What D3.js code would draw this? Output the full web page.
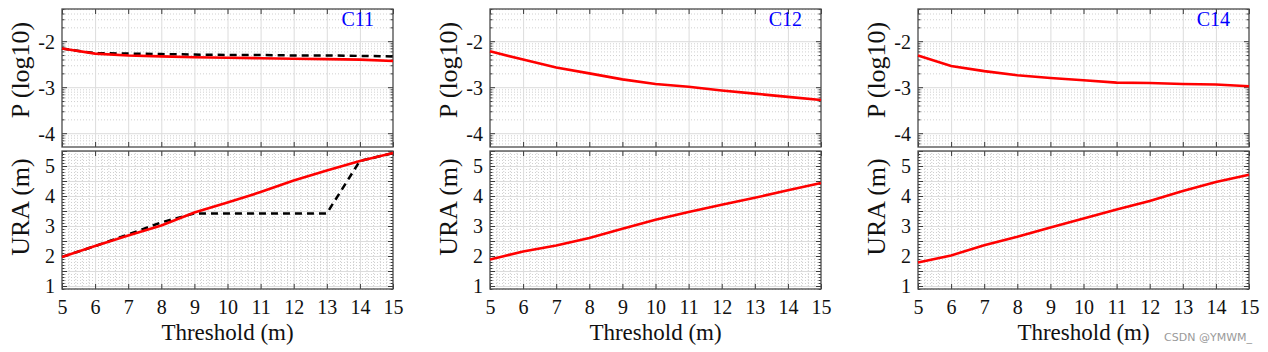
<!DOCTYPE html>
<html>
<head>
<meta charset="utf-8">
<script src="https://cdn.jsdelivr.net/npm/d3@7"></script>
<style>
  body { margin: 0; background: #fff; }
  text { font-family: 'Liberation Serif', 'Times New Roman', serif; }
  .grid-major line { stroke: #dcdcdc; stroke-width: 1; }
  .grid-minor line { stroke: #c4c4c4; stroke-width: 0.8; stroke-dasharray: 1 2; }
  .grid .domain { display: none; }
  .axis .domain { display: none; }
  .axis line { stroke: #3a3a3a; stroke-width: 1; }
  .axis text { font-size: 20px; fill: #111; }
  text.watermark { font-family: 'DejaVu Sans', sans-serif; }
</style>
</head>
<body>
<svg id="chart"></svg>
<script>
const thresholds = [5, 6, 7, 8, 9, 10, 11, 12, 13, 14, 15]
const satellites = ['C11', 'C12', 'C14']

// P (log10) per threshold
const pC11 = [-2.16, -2.27, -2.31, -2.33, -2.35, -2.36, -2.37, -2.38, -2.39, -2.40, -2.43]
const pC11Dashed = [-2.16, -2.26, -2.27, -2.28, -2.29, -2.30, -2.30, -2.31, -2.31, -2.32, -2.33]
const pC12 = [-2.22, -2.40, -2.57, -2.70, -2.83, -2.93, -2.99, -3.07, -3.14, -3.21, -3.28]
const pC14 = [-2.31, -2.54, -2.65, -2.74, -2.80, -2.85, -2.90, -2.91, -2.93, -2.94, -2.98]

// URA (m) per threshold
const uraC11 = [1.97, 2.33, 2.68, 3.02, 3.45, 3.78, 4.13, 4.52, 4.85, 5.17, 5.43]
const uraC11Dashed = [1.97, 2.33, 2.72, 3.12, 3.42, 3.42, 3.42, 3.42, 3.42, 5.17, 5.43]
const uraC12 = [1.88, 2.15, 2.35, 2.60, 2.91, 3.21, 3.47, 3.71, 3.94, 4.19, 4.43]
const uraC14 = [1.78, 2.02, 2.36, 2.64, 2.95, 3.25, 3.55, 3.83, 4.17, 4.47, 4.71]

const pTicks = [-4, -3, -2]
const uraTicks = [1, 1.5, 2, 2.5, 3, 3.5, 4, 4.5, 5, 5.5]
const uraLabels = [1, 2, 3, 4, 5]

const panelData = [
    { label: 'C11', p: pC11, pDashed: pC11Dashed, ura: uraC11, uraDashed: uraC11Dashed },
    { label: 'C12', p: pC12, ura: uraC12 },
    { label: 'C14', p: pC14, ura: uraC14 }
]

class Panel {

    constructor(_config, _data) {
        this.config = {
            parentElement: _config.parentElement,
            left: _config.left,
            width: _config.width || 331,
            top: { y0: 9, y1: 147 },
            bottom: { y0: 151, y1: 289 }
        }
        this.data = _data
        this.initVis()
    }

    initVis() {
        let vis = this

        vis.chart = vis.config.parentElement.append('g')
            .attr('transform', `translate(${vis.config.left}, 0)`)

        vis.xScale = d3.scaleLinear()
            .domain([5, 15])
            .range([0, vis.config.width])

        vis.pScale = d3.scaleLinear()
            .domain([-4.3, -1.3])
            .range([vis.config.top.y1, vis.config.top.y0])

        vis.uraScale = d3.scaleLinear()
            .domain([0.9, 5.5])
            .range([vis.config.bottom.y1, vis.config.bottom.y0])

        vis.renderVis()
    }

    drawBox(box, yScale, yMajor, yMinor, xMinor, yLabels, yTitle, titleY, showX) {
        let vis = this
        let w = vis.config.width
        let h = box.y1 - box.y0
        let g = vis.chart.append('g')

        // minor grid
        g.append('g')
            .attr('class', 'grid grid-minor')
            .call(d3.axisLeft(yScale).tickValues(yMinor).tickSize(-w).tickFormat(''))
        if (xMinor.length) {
            g.append('g')
                .attr('class', 'grid grid-minor')
                .attr('transform', `translate(0, ${box.y1})`)
                .call(d3.axisBottom(vis.xScale).tickValues(xMinor).tickSize(-h).tickFormat(''))
        }

        // major grid
        g.append('g')
            .attr('class', 'grid grid-major')
            .call(d3.axisLeft(yScale).tickValues(yMajor).tickSize(-w).tickFormat(''))
        g.append('g')
            .attr('class', 'grid grid-major')
            .attr('transform', `translate(0, ${box.y1})`)
            .call(d3.axisBottom(vis.xScale).tickValues(thresholds.slice(1, -1)).tickSize(-h).tickFormat(''))

        // ticks, inward on all four sides
        g.append('g')
            .attr('class', 'axis')
            .call(d3.axisLeft(yScale).tickValues(yMajor).tickSize(-5)
                .tickFormat(d => yLabels.includes(d) ? d : ''))
            .call(a => a.selectAll('text').attr('x', -7).attr('dy', '0.34em'))
        g.append('g')
            .attr('class', 'axis')
            .call(d3.axisLeft(yScale).tickValues(yMinor).tickSize(-2.5).tickFormat(''))
        g.append('g')
            .attr('class', 'axis')
            .attr('transform', `translate(${w}, 0)`)
            .call(d3.axisRight(yScale).tickValues(yMajor).tickSize(-5).tickFormat(''))
        g.append('g')
            .attr('class', 'axis')
            .attr('transform', `translate(${w}, 0)`)
            .call(d3.axisRight(yScale).tickValues(yMinor).tickSize(-2.5).tickFormat(''))
        g.append('g')
            .attr('class', 'axis')
            .attr('transform', `translate(0, ${box.y0})`)
            .call(d3.axisTop(vis.xScale).tickValues(thresholds).tickSize(-5).tickFormat(''))
        let xAxisGroup = g.append('g')
            .attr('class', 'axis')
            .attr('transform', `translate(0, ${box.y1})`)
            .call(d3.axisBottom(vis.xScale).tickValues(thresholds).tickSize(-5)
                .tickFormat(d => showX ? d : ''))
        xAxisGroup.selectAll('text').attr('y', 11).attr('dy', '0.71em')

        // frame
        g.append('rect')
            .attr('x', 0)
            .attr('y', box.y0)
            .attr('width', w)
            .attr('height', h)
            .attr('fill', 'none')
            .attr('stroke', '#4a4a4a')
            .attr('stroke-width', 1.3)

        g.append('text')
            .attr('transform', `translate(-33, ${titleY}) rotate(-90)`)
            .attr('text-anchor', 'middle')
            .attr('font-size', 26)
            .attr('fill', '#111')
            .text(yTitle)

        return g
    }

    renderVis() {
        let vis = this
        let w = vis.config.width

        // log-style minor grid for P
        let pMinor = []
        for (let k = -5; k <= -2; k++) {
            for (let m = 2; m <= 9; m++) {
                let v = k + Math.log10(m)
                if (v > -4.3 && v < -1.3) pMinor.push(v)
            }
        }
        let uraMinor = d3.range(0.9, 5.5001, 0.1).filter(v => Math.abs(v * 2 - Math.round(v * 2)) > 0.01)
        let xMinor = d3.range(5, 15.001, 0.2).filter(v => Math.abs(v - Math.round(v)) > 0.01)

        vis.drawBox(vis.config.top, vis.pScale, pTicks, pMinor, [], pTicks, 'P (log10)', 70, false)
        vis.drawBox(vis.config.bottom, vis.uraScale, uraTicks, uraMinor, xMinor, uraLabels, 'URA (m)', 207, true)

        let pLine = d3.line()
            .x((d, i) => vis.xScale(thresholds[i]))
            .y(d => vis.pScale(d))
        let uraLine = d3.line()
            .x((d, i) => vis.xScale(thresholds[i]))
            .y(d => vis.uraScale(d))

        if (vis.data.pDashed) {
            vis.chart.append('path')
                .attr('d', pLine(vis.data.pDashed))
                .attr('fill', 'none')
                .attr('stroke', '#000')
                .attr('stroke-width', 2.5)
                .attr('stroke-dasharray', '7 5')
        }
        if (vis.data.uraDashed) {
            vis.chart.append('path')
                .attr('d', uraLine(vis.data.uraDashed))
                .attr('fill', 'none')
                .attr('stroke', '#000')
                .attr('stroke-width', 2.5)
                .attr('stroke-dasharray', '7 5')
        }

        vis.chart.append('path')
            .attr('d', pLine(vis.data.p))
            .attr('fill', 'none')
            .attr('stroke', '#ff0000')
            .attr('stroke-width', 2.6)

        vis.chart.append('path')
            .attr('d', uraLine(vis.data.ura))
            .attr('fill', 'none')
            .attr('stroke', '#ff0000')
            .attr('stroke-width', 2.6)

        vis.chart.append('text')
            .attr('x', w - 19)
            .attr('y', 26)
            .attr('text-anchor', 'end')
            .attr('font-size', 20)
            .attr('fill', '#0000ff')
            .text(vis.data.label)

        vis.chart.append('text')
            .attr('x', w / 2)
            .attr('y', 340)
            .attr('text-anchor', 'middle')
            .attr('font-size', 23)
            .attr('fill', '#111')
            .text('Threshold (m)')
    }
}

const svg = d3.select('#chart')
    .attr('width', 1268)
    .attr('height', 352)

const panelLefts = [62, 490, 918]
satellites.forEach((s, i) => {
    new Panel({ parentElement: svg, left: panelLefts[i] }, panelData[i])
})

svg.append('text')
    .attr('class', 'watermark')
    .attr('x', 1252)
    .attr('y', 341)
    .attr('text-anchor', 'end')
    .attr('font-size', 11)
    .attr('fill', '#9a9a9a')
    .text('CSDN @YMWM_')
</script>
</body>
</html>
